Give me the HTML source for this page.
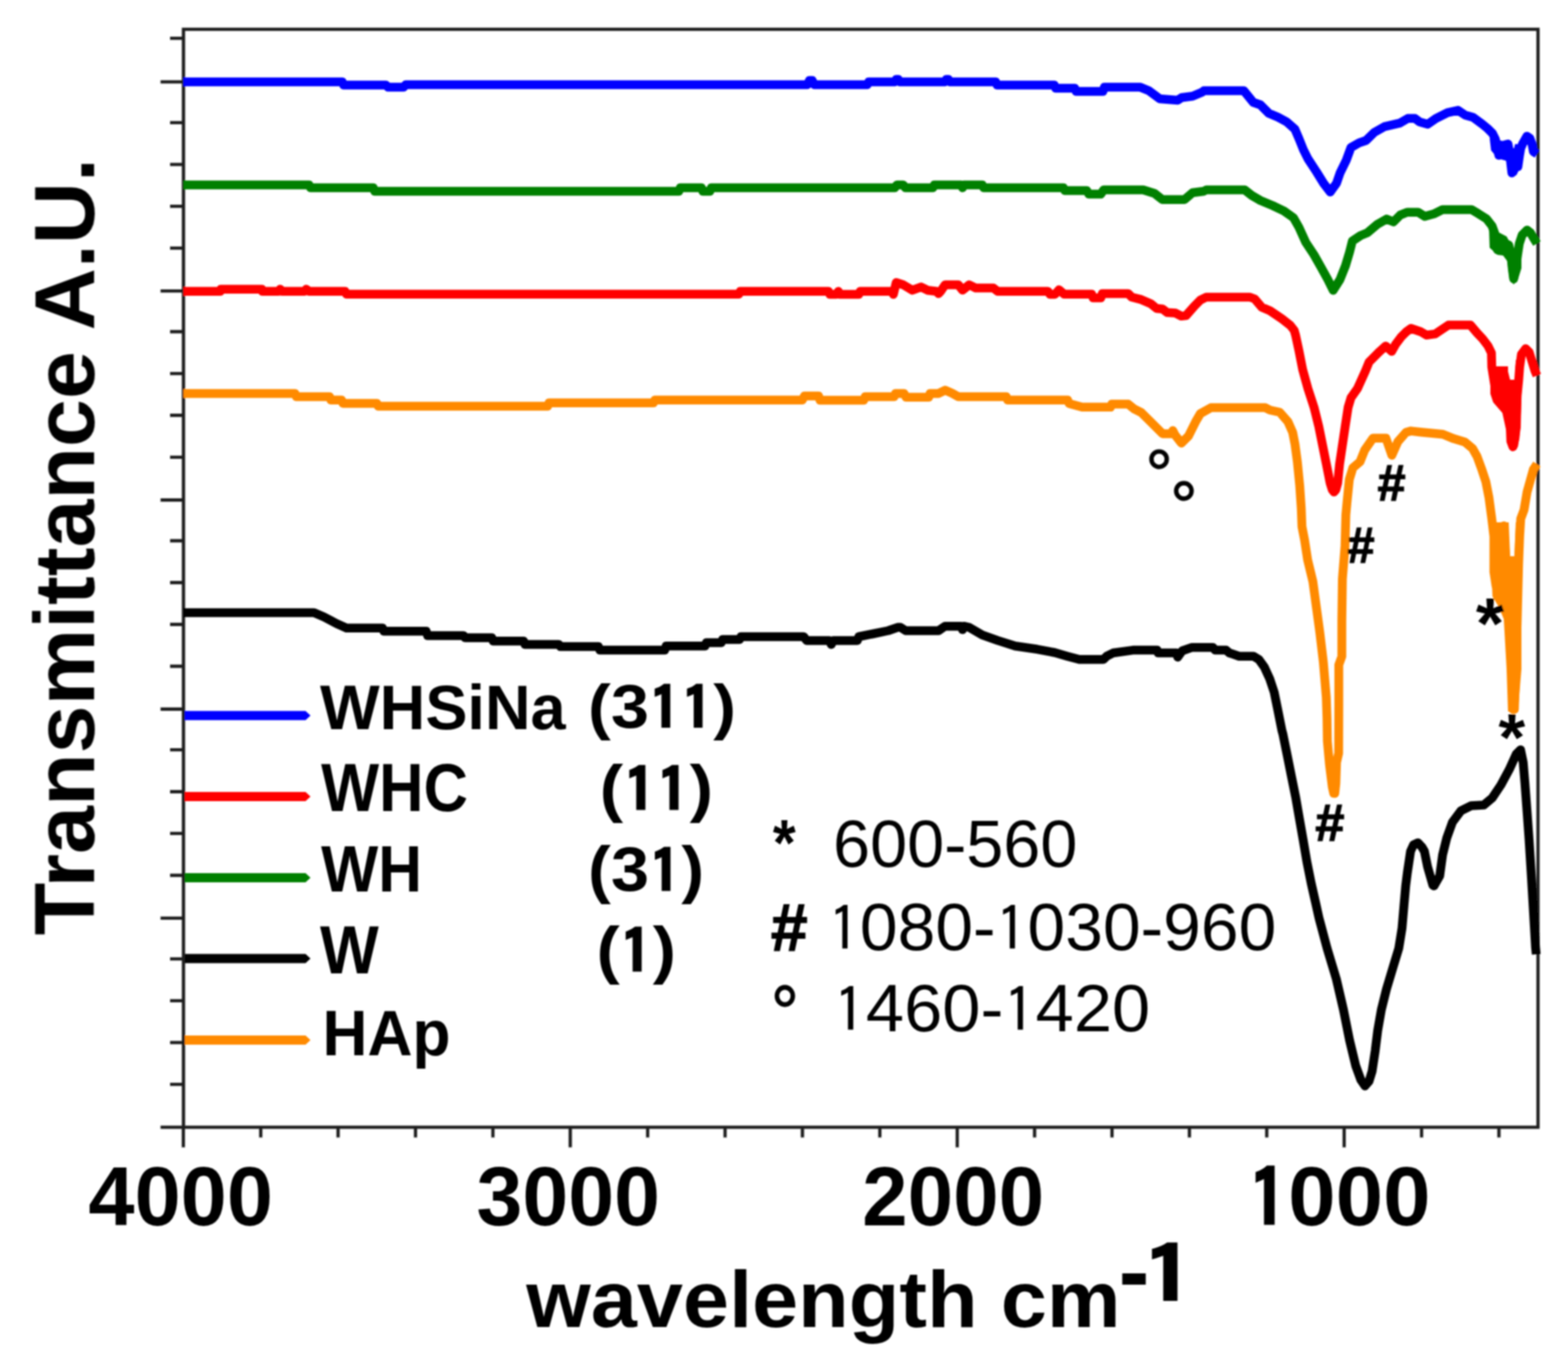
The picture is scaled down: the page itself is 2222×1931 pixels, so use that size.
<!DOCTYPE html>
<html><head><meta charset="utf-8"><title>FTIR spectra</title>
<style>html,body{margin:0;padding:0;background:#fff;}svg{display:block;}</style></head>
<body><svg xmlns="http://www.w3.org/2000/svg" width="2222" height="1931" viewBox="0 0 2222 1931">
<defs><filter id="soft" x="0" y="0" width="100%" height="100%" filterUnits="userSpaceOnUse"><feGaussianBlur stdDeviation="1.0"/></filter></defs>
<rect width="2222" height="1931" fill="#fff"/>
<g filter="url(#soft)">
<path d="M260.0,1597.0 V41.5 H2179.5 V1597.0 Z" fill="none" stroke="#1e1e1e" stroke-width="4.6" stroke-linejoin="miter"/>
<path d="M227.5,116.0H260.0 M241.0,173.7H260.0 M241.0,233.0H260.0 M241.0,292.2H260.0 M241.0,351.5H260.0 M227.5,412.2H260.0 M241.0,469.9H260.0 M241.0,529.2H260.0 M241.0,588.4H260.0 M241.0,647.7H260.0 M227.5,708.4H260.0 M241.0,766.1H260.0 M241.0,825.4H260.0 M241.0,884.6H260.0 M241.0,943.9H260.0 M227.5,1004.6H260.0 M241.0,1062.3H260.0 M241.0,1121.6H260.0 M241.0,1180.8H260.0 M241.0,1240.1H260.0 M227.5,1300.8H260.0 M241.0,1358.5H260.0 M241.0,1417.8H260.0 M241.0,1477.0H260.0 M241.0,1536.3H260.0 M227.5,1597.0H260.0 M241.0,54.3H260.0 M259.8,1597.0V1625.5 M369.5,1597.0V1611.5 M479.1,1597.0V1611.5 M588.8,1597.0V1611.5 M698.5,1597.0V1611.5 M808.1,1597.0V1625.5 M917.8,1597.0V1611.5 M1027.5,1597.0V1611.5 M1137.1,1597.0V1611.5 M1246.8,1597.0V1611.5 M1356.5,1597.0V1625.5 M1466.1,1597.0V1611.5 M1575.8,1597.0V1611.5 M1685.5,1597.0V1611.5 M1795.1,1597.0V1611.5 M1904.8,1597.0V1625.5 M2014.5,1597.0V1611.5 M2124.1,1597.0V1611.5" fill="none" stroke="#1e1e1e" stroke-width="4.6"/>
<polyline points="260.0,557.4 418.0,557.4 420.0,562.0 467.0,562.0 469.0,566.7 484.0,566.7 486.0,571.4 534.0,571.4 536.0,575.4 776.0,575.4 778.0,570.8 926.0,570.8 928.0,566.7 1137.0,566.7 1140.0,561.0 1160.0,561.0 1162.0,567.0 1224.0,567.0 1226.0,562.0 1267.0,562.0 1269.0,557.4 1281.0,557.4 1284.0,562.8 1316.0,562.8 1318.0,557.4 1330.0,557.4 1339.3,552.8 1349.0,557.0 1358.0,562.0 1426.0,562.0 1428.0,566.7 1513.0,566.7 1515.0,571.7 1533.5,576.8 1573.7,576.8 1575.4,572.6 1598.8,572.6 1607.2,579.3 1617.2,584.3 1630.6,597.7 1647.4,614.4 1660.7,614.4 1662.0,610.0 1665.0,616.0 1674.1,627.8 1684.2,617.8 1694.2,597.7 1701.0,586.0 1716.0,577.6 1793.0,577.6 1799.7,581.0 1813.4,584.0 1825.1,597.4 1831.8,612.5 1835.1,629.2 1838.5,654.3 1841.8,687.8 1844.0,720.0 1845.0,746.0 1848.7,765.0 1853.0,793.0 1860.5,824.0 1865.4,860.0 1870.3,896.0 1875.3,938.0 1879.5,988.0 1880.5,1018.0 1881.0,1050.0 1884.0,1083.0 1888.0,1115.0 1890.0,1124.0 1891.5,1124.0 1893.0,1110.0 1894.0,1080.0 1897.0,1067.0 1897.2,1000.0 1897.2,942.0 1901.5,930.0 1901.5,880.0 1902.3,820.3 1906.0,773.7 1907.2,729.5 1909.0,710.0 1912.1,679.4 1917.2,662.7 1927.2,654.3 1933.9,637.6 1945.6,620.8 1964.0,620.8 1972.4,645.0 1980.8,625.9 1992.5,612.5 1999.4,610.6 2013.4,612.2 2044.7,615.3 2060.3,621.6 2075.9,626.3 2086.9,635.6 2093.1,646.6 2099.4,663.8 2105.6,682.5 2110.0,705.0 2114.0,735.0 2117.0,760.0 2117.0,810.0 2120.0,830.0 2124.0,790.0 2128.0,760.0 2131.0,745.0 2133.0,780.0 2134.0,820.0 2137.0,845.0 2140.0,880.0 2142.0,950.0 2144.0,1005.0 2146.0,1005.0 2148.0,950.0 2150.0,880.0 2151.0,840.0 2152.0,800.0 2153.5,760.0 2155.0,735.0 2159.7,722.4 2164.0,697.0 2168.2,682.0 2172.8,665.3 2178.0,657.5" fill="none" stroke="#ff8a00" stroke-width="12.5" stroke-linejoin="round" stroke-linecap="butt"/>
<polyline points="260.0,868.0 445.0,868.0 459.0,874.0 477.0,883.5 491.0,889.7 542.0,889.7 544.0,894.3 604.0,894.3 606.0,900.5 657.0,900.5 659.0,903.6 697.0,903.6 699.0,908.3 742.0,908.3 744.0,913.0 792.0,913.0 794.0,916.0 848.0,916.0 850.0,921.0 942.0,921.0 944.0,915.2 999.0,915.2 1001.0,910.5 1022.0,910.5 1024.0,906.0 1048.0,906.0 1050.0,902.0 1139.0,902.0 1143.0,907.4 1175.0,907.4 1178.0,913.0 1181.0,907.4 1215.0,907.4 1217.0,902.0 1237.0,898.0 1258.6,893.5 1272.0,888.8 1276.0,888.8 1283.5,893.5 1330.0,893.5 1339.3,887.2 1362.0,887.2 1364.0,892.0 1366.0,887.2 1373.5,888.8 1392.0,899.7 1413.8,907.4 1438.7,915.2 1469.7,919.8 1494.5,924.5 1512.4,929.7 1529.5,934.3 1563.6,934.3 1568.3,929.7 1577.6,925.0 1605.5,921.1 1639.7,921.1 1641.2,925.0 1667.0,925.0 1669.0,931.0 1675.4,922.0 1689.3,917.2 1718.8,917.2 1722.0,921.1 1737.4,921.1 1742.0,925.0 1756.0,929.7 1776.2,929.7 1784.0,934.3 1791.7,945.2 1799.5,962.2 1805.7,980.9 1810.4,1004.0 1816.6,1035.0 1818.0,1040.0 1824.1,1070.0 1830.1,1100.0 1836.2,1130.0 1841.4,1160.0 1846.7,1190.0 1852.0,1221.0 1858.0,1251.0 1864.8,1281.0 1869.0,1300.0 1880.6,1343.5 1893.7,1387.0 1903.8,1430.5 1912.5,1474.0 1921.2,1510.0 1928.5,1530.0 1934.3,1538.5 1940.0,1532.0 1944.4,1517.6 1948.8,1488.6 1952.4,1459.6 1957.5,1430.5 1964.7,1401.5 1973.4,1372.5 1982.2,1343.5 1986.8,1315.0 1989.8,1280.0 1992.0,1255.0 1994.4,1236.0 1998.9,1206.0 2003.0,1197.0 2009.4,1194.0 2015.0,1200.0 2018.5,1206.0 2023.0,1228.0 2030.5,1254.0 2032.2,1255.0 2040.2,1241.0 2044.3,1211.0 2050.3,1186.8 2058.3,1164.7 2070.4,1148.6 2084.5,1141.6 2102.5,1140.6 2114.6,1130.5 2126.7,1112.4 2138.7,1090.3 2148.8,1068.2 2154.8,1062.2 2158.5,1080.0 2161.0,1110.0 2164.0,1150.0 2166.8,1189.0 2170.0,1240.0 2172.9,1289.0 2176.0,1342.0 2177.0,1352.0" fill="none" stroke="#000000" stroke-width="12.5" stroke-linejoin="round" stroke-linecap="butt"/>
<polyline points="260.0,412.8 312.0,412.8 313.0,409.7 371.0,409.7 372.0,412.8 395.0,412.8 397.0,409.7 400.0,412.8 432.0,412.8 434.0,409.7 438.0,412.8 489.0,412.8 491.0,416.8 1047.0,416.8 1049.0,412.8 1174.0,412.8 1176.0,417.0 1185.0,417.0 1188.0,412.8 1190.0,417.0 1217.0,417.0 1219.0,412.8 1264.0,412.8 1266.0,417.0 1270.0,400.3 1280.0,403.5 1292.8,411.2 1305.2,406.6 1314.5,411.2 1327.0,412.8 1330.0,416.0 1333.0,412.8 1339.3,403.5 1358.0,403.5 1364.0,411.0 1373.5,403.5 1382.8,408.1 1407.6,408.1 1413.8,412.8 1485.0,412.8 1488.0,417.0 1495.0,417.0 1500.7,410.5 1508.0,416.8 1547.0,416.8 1549.0,421.9 1560.0,421.9 1562.0,416.0 1598.8,416.0 1603.8,421.0 1617.2,424.4 1630.6,430.2 1639.0,437.0 1647.4,437.8 1654.0,442.8 1665.8,443.6 1674.1,447.8 1680.8,447.0 1692.6,433.6 1701.0,425.2 1709.3,421.0 1771.3,421.0 1778.0,423.5 1788.0,435.3 1799.7,440.3 1816.7,451.8 1828.5,461.0 1834.0,468.0 1836.0,475.0 1840.7,496.8 1846.0,523.6 1853.4,550.4 1862.1,577.1 1868.8,603.9 1874.2,630.7 1879.6,657.5 1884.9,684.3 1888.0,694.0 1890.3,697.0 1893.0,694.0 1895.6,684.3 1898.3,657.5 1902.3,630.7 1906.3,603.9 1910.4,577.1 1914.4,563.7 1923.7,550.4 1935.0,525.4 1940.1,512.8 1947.6,505.3 1955.2,497.8 1963.7,490.2 1972.2,497.8 1977.8,487.7 1985.3,477.7 1992.8,470.1 1999.4,465.3 2013.4,470.0 2021.3,474.7 2033.8,473.1 2043.1,466.9 2052.5,460.6 2083.8,460.6 2093.1,471.6 2101.0,480.0 2108.6,490.0 2113.5,500.0 2114.0,520.0 2118.0,545.0 2122.0,556.0 2128.0,540.0 2131.0,528.0 2134.0,540.0 2138.0,570.0 2140.0,600.0 2141.0,625.0 2144.0,633.0 2147.0,620.0 2148.5,595.0 2150.0,560.0 2152.0,540.0 2153.5,520.0 2156.0,502.0 2162.0,494.0 2167.0,499.0 2171.0,512.0 2175.0,525.0 2178.0,532.0" fill="none" stroke="#ff0000" stroke-width="12.5" stroke-linejoin="round" stroke-linecap="butt"/>
<polyline points="260.0,262.0 438.0,262.0 440.0,266.0 529.0,266.0 531.0,271.0 962.0,271.0 964.0,266.0 994.0,266.0 996.0,271.0 1006.0,271.0 1008.0,266.0 1268.0,266.0 1271.0,262.0 1280.0,262.0 1283.0,266.0 1322.0,266.0 1324.0,262.0 1362.0,262.0 1364.0,266.0 1366.0,262.0 1392.0,262.0 1394.0,266.0 1507.0,266.0 1509.0,270.0 1540.0,270.0 1543.0,275.0 1560.0,275.0 1564.0,269.0 1620.0,269.0 1636.0,274.0 1647.0,282.7 1678.5,282.7 1690.0,273.0 1705.6,271.0 1709.5,269.0 1763.8,269.0 1774.0,277.0 1786.0,284.0 1804.0,291.5 1819.4,298.8 1833.0,308.5 1840.7,322.0 1850.4,343.4 1862.0,360.9 1871.8,378.3 1881.5,395.8 1889.2,411.3 1899.0,395.8 1906.7,376.4 1912.5,357.0 1916.4,341.5 1928.0,333.7 1937.7,329.8 1951.3,318.2 1964.9,310.4 1974.6,314.3 1984.3,304.6 1994.0,300.7 2009.5,300.7 2019.2,306.6 2032.8,302.7 2044.4,296.9 2085.2,296.9 2094.9,302.7 2106.5,310.0 2114.3,320.0 2118.0,330.0 2120.0,342.0 2122.0,354.0 2127.0,349.0 2133.0,345.0 2138.0,347.0 2141.0,360.0 2143.0,380.0 2145.0,395.0 2147.0,385.0 2149.0,372.0 2151.0,358.0 2153.0,345.0 2157.0,333.0 2164.0,326.0 2169.0,330.0 2173.0,337.0 2178.0,345.0" fill="none" stroke="#008000" stroke-width="12.5" stroke-linejoin="round" stroke-linecap="butt"/>
<polyline points="260.0,116.0 485.0,116.0 487.0,120.5 547.0,120.5 550.0,123.6 572.0,123.6 575.0,120.0 1144.0,120.0 1147.0,114.0 1151.0,114.0 1154.0,120.0 1229.0,120.0 1231.0,116.0 1268.0,116.0 1270.0,112.5 1273.0,112.5 1275.0,116.0 1339.0,116.0 1341.0,112.5 1344.0,112.5 1346.0,116.0 1411.0,116.0 1413.0,120.5 1494.0,120.5 1496.0,125.0 1523.0,125.0 1525.0,129.5 1563.0,129.5 1565.0,123.6 1616.0,123.6 1628.0,128.5 1643.5,140.0 1668.8,142.0 1674.6,138.2 1690.0,136.3 1703.7,130.4 1706.0,128.5 1762.6,128.5 1776.0,145.0 1786.0,148.5 1798.0,160.5 1811.0,166.0 1823.0,172.4 1835.0,183.0 1841.0,197.0 1847.0,212.0 1853.5,225.0 1865.7,243.6 1875.6,259.6 1885.0,272.0 1894.0,259.6 1899.0,245.0 1907.8,227.0 1914.4,209.0 1926.0,202.4 1935.8,199.0 1947.4,187.6 1962.0,179.4 1983.7,174.4 1995.0,167.8 2005.0,167.8 2011.7,172.8 2023.2,176.0 2034.8,167.8 2051.3,159.6 2066.0,156.3 2076.0,162.9 2087.5,166.2 2100.7,176.0 2108.0,182.0 2115.0,189.0 2119.0,197.0 2122.0,210.0 2124.0,220.0 2128.0,214.0 2133.0,205.0 2137.0,204.0 2139.0,215.0 2141.0,232.0 2142.5,245.0 2145.0,238.0 2148.0,236.0 2151.0,236.0 2153.0,222.0 2155.0,210.0 2158.0,203.0 2163.7,193.0 2168.0,196.0 2171.0,204.0 2173.0,215.0 2178.0,218.0" fill="none" stroke="#0000ff" stroke-width="12.5" stroke-linejoin="round" stroke-linecap="butt"/>
<polygon points="2113,740 2138,740 2140,788 2146,788 2148,740 2157,740 2158,800 2156,840 2156,948 2151,1008 2137,1008 2135,948 2131,877 2124,860 2115,845 2113,800" fill="#ff8a00"/>
<polygon points="2112,519 2137,519 2137,538 2147,538 2148,510 2158,510 2156,560 2155,606 2151,633 2144,638 2134,608 2129,585 2116,570 2112,558" fill="#ff0000"/>
<polygon points="2111,196 2136,201 2138,210 2145.5,210 2147,204 2156,205 2156,215 2153,240 2149,248 2142,250 2137,245 2135,228 2128,226 2122,224 2113,213" fill="#0000ff"/>
<polygon points="2110,322 2135,335 2141,346 2142,353 2147,353 2148,345 2156,345 2156,380 2151,396 2145,403 2139,395 2136,370 2130,362 2122,361 2111,351" fill="#008000"/>
<path d="M262,1007.30H433L440,1013.8L433,1020.30H262Z" fill="#0000ff"/>
<path d="M262,1122.00H433L440,1128.5L433,1135.00H262Z" fill="#ff0000"/>
<path d="M262,1237.00H433L440,1243.5L433,1250.00H262Z" fill="#008000"/>
<path d="M262,1351.50H433L440,1358.0L433,1364.50H262Z" fill="#000000"/>
<path d="M262,1467.00H433L440,1473.5L433,1480.00H262Z" fill="#ff8a00"/>
<text transform="matrix(0.0000,-0.9844,0.9725,0.0000,133.2275,1325.0844)" font-family="'Liberation Sans', Arial, Helvetica, sans-serif" font-weight="bold" font-size="124" fill="#000">Transmittance A.U.</text>
<text transform="matrix(0.9792,0.0000,0.0000,0.9930,125.3415,1736.2070)" font-family="'Liberation Sans', Arial, Helvetica, sans-serif" font-weight="bold" font-size="120" fill="#000">4000</text>
<text transform="matrix(0.9745,0.0000,0.0000,0.9895,675.2764,1735.9105)" font-family="'Liberation Sans', Arial, Helvetica, sans-serif" font-weight="bold" font-size="120" fill="#000">3000</text>
<text transform="matrix(0.9655,0.0000,0.0000,0.9953,1221.8380,1736.4047)" font-family="'Liberation Sans', Arial, Helvetica, sans-serif" font-weight="bold" font-size="120" fill="#000">2000</text>
<text transform="matrix(1.0070,0.0000,0.0000,0.9839,1768.8298,1736.4161)" font-family="'Liberation Sans', Arial, Helvetica, sans-serif" font-weight="bold" font-size="120" fill="#000"><tspan font-family="IPAGothic, 'Liberation Sans', sans-serif" font-size="94%" baseline-shift="-0.019em" stroke="#000" stroke-width="2.2">1</tspan>000</text>
<text transform="matrix(1.0041,0.0000,0.0000,0.9645,745.8000,1880.4864)" font-family="'Liberation Sans', Arial, Helvetica, sans-serif" font-weight="bold" font-size="117" fill="#000">wavelength cm</text>
<text transform="matrix(1.0742,0.0000,0.0000,1.0933,1585.3290,1846.7333)" font-family="'Liberation Sans', Arial, Helvetica, sans-serif" font-weight="bold" font-size="122" fill="#000">-</text>
<text transform="matrix(1.3296,0.0000,0.0000,0.9644,1618.2741,1843.7644)" font-family="'Liberation Sans', Arial, Helvetica, sans-serif" font-weight="bold" font-size="122" fill="#000"><tspan font-family="IPAGothic, 'Liberation Sans', sans-serif" font-size="94%" baseline-shift="-0.019em" stroke="#000" stroke-width="2.2">1</tspan></text>
<text transform="matrix(0.9326,0.0000,0.0000,0.9225,453.5000,1032.5775)" font-family="'Liberation Sans', Arial, Helvetica, sans-serif" font-weight="bold" font-size="96" fill="#000">WHSiNa</text>
<text transform="matrix(1.0101,0.0000,0.0000,0.9022,833.3495,1031.1556)" font-family="'Liberation Sans', Arial, Helvetica, sans-serif" font-weight="bold" font-size="96" fill="#000">(3<tspan font-family="IPAGothic, 'Liberation Sans', sans-serif" font-size="94%" baseline-shift="-0.019em" stroke="#000" stroke-width="2.2">1</tspan><tspan font-family="IPAGothic, 'Liberation Sans', sans-serif" font-size="94%" baseline-shift="-0.019em" stroke="#000" stroke-width="2.2">1</tspan>)</text>
<text transform="matrix(0.9075,0.0000,0.0000,0.9971,455.0000,1148.8029)" font-family="'Liberation Sans', Arial, Helvetica, sans-serif" font-weight="bold" font-size="96" fill="#000">WHC</text>
<text transform="matrix(1.0437,0.0000,0.0000,0.9356,849.7812,1147.4889)" font-family="'Liberation Sans', Arial, Helvetica, sans-serif" font-weight="bold" font-size="96" fill="#000">(<tspan font-family="IPAGothic, 'Liberation Sans', sans-serif" font-size="94%" baseline-shift="-0.019em" stroke="#000" stroke-width="2.2">1</tspan><tspan font-family="IPAGothic, 'Liberation Sans', sans-serif" font-size="94%" baseline-shift="-0.019em" stroke="#000" stroke-width="2.2">1</tspan>)</text>
<text transform="matrix(0.8941,0.0000,0.0000,0.9672,455.0000,1262.6000)" font-family="'Liberation Sans', Arial, Helvetica, sans-serif" font-weight="bold" font-size="96" fill="#000">WH</text>
<text transform="matrix(1.0124,0.0000,0.0000,0.9189,833.3379,1262.1222)" font-family="'Liberation Sans', Arial, Helvetica, sans-serif" font-weight="bold" font-size="96" fill="#000">(3<tspan font-family="IPAGothic, 'Liberation Sans', sans-serif" font-size="94%" baseline-shift="-0.019em" stroke="#000" stroke-width="2.2">1</tspan>)</text>
<text transform="matrix(0.9189,0.0000,0.0000,1.0104,453.5000,1378.7000)" font-family="'Liberation Sans', Arial, Helvetica, sans-serif" font-weight="bold" font-size="96" fill="#000">W</text>
<text transform="matrix(1.0333,0.0000,0.0000,0.9356,845.2333,1376.4889)" font-family="'Liberation Sans', Arial, Helvetica, sans-serif" font-weight="bold" font-size="96" fill="#000">(<tspan font-family="IPAGothic, 'Liberation Sans', sans-serif" font-size="94%" baseline-shift="-0.019em" stroke="#000" stroke-width="2.2">1</tspan>)</text>
<text transform="matrix(0.9191,0.0000,0.0000,0.9506,457.0851,1494.9885)" font-family="'Liberation Sans', Arial, Helvetica, sans-serif" font-weight="bold" font-size="96" fill="#000">HAp</text>
<text transform="matrix(0.9441,0.0000,0.0000,1.0594,1095.2000,1226.0625)" font-family="'Liberation Sans', Arial, Helvetica, sans-serif" font-weight="bold" font-size="88" fill="#000">*</text>
<text transform="matrix(0.9938,0.0000,0.0000,1.0000,1180.4309,1227.6000)" font-family="'Liberation Sans', Arial, Helvetica, sans-serif" font-weight="normal" font-size="95" fill="#000">600-560</text>
<text transform="matrix(0.9615,0.0000,0.0000,0.9838,1092.4385,1347.2162)" font-family="'Liberation Sans', Arial, Helvetica, sans-serif" font-weight="bold" font-size="97" fill="#000" stroke="#000" stroke-width="1.8">#</text>
<text transform="matrix(1.0116,0.0000,0.0000,0.9896,1173.3844,1346.3104)" font-family="'Liberation Sans', Arial, Helvetica, sans-serif" font-weight="normal" font-size="95" fill="#000"><tspan font-family="IPAGothic, 'Liberation Sans', sans-serif" font-size="94%" baseline-shift="-0.019em">1</tspan>080-<tspan font-family="IPAGothic, 'Liberation Sans', sans-serif" font-size="94%" baseline-shift="-0.019em">1</tspan>030-960</text>
<text transform="matrix(1.0000,0.0000,0.0000,1.0793,1092.5000,1470.8724)" font-family="'Liberation Sans', Arial, Helvetica, sans-serif" font-weight="normal" font-size="99" fill="#000" stroke="#000" stroke-width="1.2">°</text>
<text transform="matrix(1.0245,0.0000,0.0000,0.9925,1181.3547,1461.0075)" font-family="'Liberation Sans', Arial, Helvetica, sans-serif" font-weight="normal" font-size="95" fill="#000"><tspan font-family="IPAGothic, 'Liberation Sans', sans-serif" font-size="94%" baseline-shift="-0.019em">1</tspan>460-<tspan font-family="IPAGothic, 'Liberation Sans', sans-serif" font-size="94%" baseline-shift="-0.019em">1</tspan>420</text>
<text transform="matrix(1.0615,0.0000,0.0000,1.0667,1623.5923,704.8667)" font-family="'Liberation Sans', Arial, Helvetica, sans-serif" font-weight="normal" font-size="90" fill="#000" stroke="#000" stroke-width="1.2">°</text>
<text transform="matrix(1.0654,0.0000,0.0000,1.0889,1658.4731,750.4889)" font-family="'Liberation Sans', Arial, Helvetica, sans-serif" font-weight="normal" font-size="90" fill="#000" stroke="#000" stroke-width="1.2">°</text>
<text transform="matrix(0.9357,0.0000,0.0000,0.9593,1952.3000,708.5407)" font-family="'Liberation Sans', Arial, Helvetica, sans-serif" font-weight="bold" font-size="76" fill="#000" stroke="#000" stroke-width="1.8">#</text>
<text transform="matrix(0.9071,0.0000,0.0000,0.9315,1909.6000,797.2685)" font-family="'Liberation Sans', Arial, Helvetica, sans-serif" font-weight="bold" font-size="76" fill="#000" stroke="#000" stroke-width="1.8">#</text>
<text transform="matrix(0.9714,0.0000,0.0000,0.9685,1864.0000,1191.3315)" font-family="'Liberation Sans', Arial, Helvetica, sans-serif" font-weight="bold" font-size="76" fill="#000" stroke="#000" stroke-width="1.8">#</text>
<text transform="matrix(1.0077,0.0000,0.0000,0.9947,2091.6000,917.6316)" font-family="'Liberation Sans', Arial, Helvetica, sans-serif" font-weight="bold" font-size="102" fill="#000">*</text>
<text transform="matrix(0.9538,0.0000,0.0000,0.9211,2123.6000,1077.4737)" font-family="'Liberation Sans', Arial, Helvetica, sans-serif" font-weight="bold" font-size="102" fill="#000">*</text>
</g>
</svg></body></html>
